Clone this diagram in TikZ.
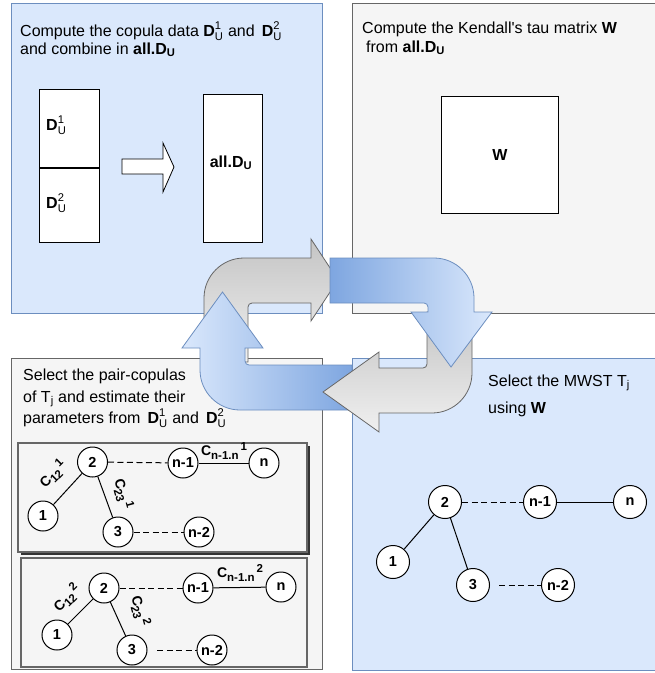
\documentclass[tikz,border=0pt]{standalone}
\usepackage{amsmath}
\usepackage{fontspec}
\setmainfont{Liberation Sans}
\definecolor{bfill}{HTML}{DAE8FC}
\definecolor{bline}{HTML}{6C8EBF}
\definecolor{bdark}{HTML}{7EA6E0}
\definecolor{gfill}{HTML}{F5F5F5}
\definecolor{gline}{HTML}{666666}
\definecolor{gtop}{HTML}{C4C4C4}
\definecolor{gbot}{HTML}{F0F0F0}
\newcommand{\cl}[2]{C\raisebox{-3.5pt}{\fontsize{11.5}{12}\selectfont #1}\raisebox{5pt}{\fontsize{11.5}{12}\selectfont\,#2}}
\newcommand{\DU}[1]{$\mathbf{D}^{\mathrm{#1}}_{\mathrm{U}}$}
\begin{document}
\begin{tikzpicture}[x=1pt,y=-1pt,
  panelblue/.style={fill=bfill,draw=bline,line width=1pt},
  panelgray/.style={fill=gfill,draw=gline,line width=1pt},
  wbox/.style={fill=white,draw=black,line width=1pt},
  txt/.style={anchor=base west,inner sep=0pt,font=\fontsize{16}{19}\selectfont},
  btxt/.style={anchor=base,inner sep=0pt,font=\bfseries\fontsize{16}{19}\selectfont},
  vtx/.style={circle,draw=black,fill=white,line width=1pt,inner sep=0pt,minimum size=30pt,font=\bfseries\fontsize{14.5}{14.5}\selectfont},
  vtxb/.style={vtx,minimum size=33pt},
  elab/.style={inner sep=0pt,font=\bfseries\fontsize{14}{14}\selectfont},
  conn/.style={draw=black,line width=1pt},
  dconn/.style={conn,dash pattern=on 6pt off 3.5pt},
  gbox/.style={fill=gfill,draw=gline,line width=2pt},
  grayarrow/.style={draw=gline,line width=0.8pt,top color=gtop,bottom color=gbot},
  bluearrowR/.style={draw=bline,line width=0.8pt,left color=bdark,right color=bfill},
  bluearrowL/.style={draw=bline,line width=0.8pt,left color=bfill,right color=bdark}]
\useasboundingbox (0,0) rectangle (655,673);
\clip (0,0) rectangle (655,673);

% panels
\path[panelblue] (11,3) rectangle (322,313);
\path[panelgray] (352,3) rectangle (660,313);
\path[panelgray] (11,358) rectangle (322,669);
\path[panelblue] (352,358) rectangle (660,670);

% top-left panel
\node[txt] (ta1) at (20,36) {Compute the copula data \DU{1} and \,\DU{2}};
\node[txt] (ta2) at (20,54) {and combine in \textbf{all.D}$_{\mathbf{U}}$};
\draw[wbox] (39,89) rectangle (99,168);
\draw[wbox] (39,168) rectangle (99,242);
\draw[black,line width=1.6pt] (39,168) -- (99,168);
\node[txt] (d1) at (46,130) {\DU{1}};
\node[txt] (d2) at (46,208) {\DU{2}};
\draw[wbox,line width=0.8pt] (122,159) -- (163,159) -- (163,143) -- (174,167) -- (163,192) -- (163,174) -- (122,174) -- cycle;
\draw[wbox] (203,94) rectangle (262,242);
\node[btxt] (alld) at (231,167) {all.D$_{\mathbf{U}}$};

% top-right panel
\node[txt] (tb1) at (362,33) {Compute the Kendall\textquotesingle s tau matrix \textbf{W}};
\node[txt] (tb2) at (366,52) {from \textbf{all.D}$_{\mathbf{U}}$};
\draw[wbox] (441,96) rectangle (558,213);
\node[btxt] (wlab) at (500,160) {W};

% bottom-left panel
\node[txt] (tc1) at (23,380) {Select the pair-copulas};
\node[txt] (tc2) at (23,402) {of T$_{\mathrm{j}}$ and estimate their};
\node[txt] (tc3) at (23,423) {parameters from \,\DU{1} and \,\DU{2}};

% inner box 1 (with shadow)
\fill[black!80] (21,446) rectangle (310,555);
\path[gbox] (18,443) rectangle (307,552);
\node[vtx] (a2) at (92.5,462) {2};
\node[vtx] (an1) at (183,463) {n-1};
\node[vtx] (an) at (264,463) {n};
\node[vtx] (a1) at (43,516) {1};
\node[vtx] (a3) at (118,532) {3};
\node[vtx] (an2) at (199,532) {n-2};
\draw[conn] (a2) -- (a1);
\draw[conn] (a2) -- (a3);
\draw[conn] (an1) -- (an);
\draw[dconn] (a2) -- (an1);
\draw[dconn] (a3) -- (an2);
\node[elab,rotate=45] (la12) at (53,474) {\cl{12}{1}};
\node[elab,rotate=-75] (la23) at (123,494) {\cl{23}{1}};
\node[elab] (lan) at (224,451) {\cl{n-1.n}{1}};

% inner box 2
\path[gbox] (21,558) rectangle (307,667);
\node[vtx] (b2) at (104,588) {2};
\node[vtx] (bn1) at (198,588) {n-1};
\node[vtx] (bn) at (281,587) {n};
\node[vtx] (b1) at (57,635) {1};
\node[vtx] (b3) at (132,650) {3};
\node[vtx] (bn2) at (212,650) {n-2};
\coordinate (bs) at (157,650);
\draw[conn] (b2) -- (b1);
\draw[conn] (b2) -- (b3);
\draw[conn] (bn1) -- (bn);
\draw[dconn] (b2) -- (bn1);
\draw[dconn] (bs) -- (bn2);
\node[elab,rotate=45] (lb12) at (67,598) {\cl{12}{2}};
\node[elab,rotate=-75] (lb23) at (140,611) {\cl{23}{2}};
\node[elab] (lbn) at (240,573) {\cl{n-1.n}{2}};

% bottom-right panel
\node[txt] (td1) at (488,386) {Select the MWST T$_{\mathrm{j}}$};
\node[txt] (td2) at (488,413) {using \textbf{W}};
\node[vtxb] (c2) at (445,502) {2};
\node[vtxb] (cn1) at (540,502) {n-1};
\node[vtxb] (cn) at (630,502) {n};
\node[vtxb] (c1) at (393,562) {1};
\node[vtxb] (c3) at (473,585) {3};
\node[vtxb] (cn2) at (558,585) {n-2};
\coordinate (cs) at (499,585);
\draw[conn] (c2) -- (c1);
\draw[conn] (c2) -- (c3);
\draw[conn] (cn1) -- (cn);
\draw[dconn] (c2) -- (cn1);
\draw[dconn] (cs) -- (cn2);

% central cycle of arrows
\path[grayarrow] (204,362) -- (204,298) .. controls (204,276) and (222,258) .. (244,258) -- (311,258) -- (311,239) -- (338,280) -- (311,321) -- (311,303) -- (252,303) .. controls (249.8,303) and (248,304.8) .. (248,307) -- (248,362) -- cycle;
\path[bluearrowL] (352,365) -- (352,410) -- (240,410) .. controls (218,410) and (200,392) .. (200,370) -- (200,348) -- (182,348) -- (222.5,292) -- (263,348) -- (245,348) -- (245,361) .. controls (245,363.2) and (246.8,365) .. (249,365) -- cycle;
\path[grayarrow] (427,312) -- (472,312) -- (472,373) .. controls (472,395) and (454,413) .. (432,413) -- (379,413) -- (379,432) -- (323,392) -- (379,352) -- (379,368) -- (423,368) .. controls (425.2,368) and (427,366.2) .. (427,364) -- cycle;
\path[bluearrowR] (330,258) -- (434,258) .. controls (456,258) and (474,276) .. (474,298) -- (474,312) -- (492,312) -- (451,367) -- (411,312) -- (428,312) -- (428,307) .. controls (428,304.8) and (426.2,303) .. (424,303) -- (330,303) -- cycle;
\end{tikzpicture}
\end{document}
